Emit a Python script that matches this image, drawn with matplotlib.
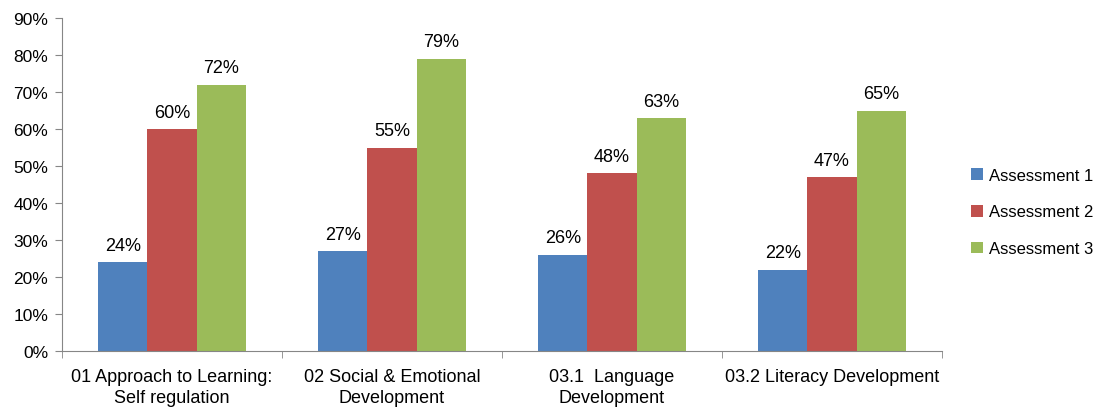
import matplotlib.pyplot as plt
import numpy as np

plt.rcParams['font.family'] = ['Liberation Sans', 'DejaVu Sans']

categories = ['01 Approach to Learning:\nSelf regulation',
              '02 Social & Emotional\nDevelopment',
              '03.1  Language\nDevelopment',
              '03.2 Literacy Development']
series_names = ['Assessment 1', 'Assessment 2', 'Assessment 3']
assessment1 = [24, 27, 26, 22]
assessment2 = [60, 55, 48, 47]
assessment3 = [72, 79, 63, 65]
colors = ['#4F81BD', '#C0504D', '#9BBB59']

fig = plt.figure(figsize=(10.99, 4.10), dpi=100)
ax = fig.add_axes([62 / 1099, 1 - 352 / 410, 880 / 1099, 333 / 410])

x = np.arange(len(categories))
width = 0.223
for i, (vals, name) in enumerate(zip([assessment1, assessment2, assessment3], series_names)):
    bars = ax.bar(x + (i - 1) * width, vals, width, color=colors[i], label=name)
    for b, v in zip(bars, vals):
        ax.annotate(f'{v}%', (b.get_x() + b.get_width() / 2, v),
                    xytext=(0, 6), textcoords='offset points',
                    ha='center', va='bottom', fontsize=13)

ax.set_xlim(-0.5, len(categories) - 0.5)
ax.set_ylim(0, 90)
ax.set_yticks(range(0, 91, 10))
ax.set_yticklabels([f'{t}%' for t in range(0, 91, 10)], fontsize=12.5)
ax.set_xticks(x)
ax.set_xticklabels(categories, fontsize=13, linespacing=1.35)
ax.set_xticks(np.arange(-0.5, len(categories)), minor=True)
ax.tick_params(axis='x', which='major', length=0, pad=12)
ax.tick_params(axis='x', which='minor', length=5, color='#868686')
ax.tick_params(axis='y', length=5, color='#868686', pad=5)

for s in ['top', 'right']:
    ax.spines[s].set_visible(False)
for s in ['left', 'bottom']:
    ax.spines[s].set_color('#868686')

fig.legend(loc='center left', bbox_to_anchor=(971 / 1099, 1 - 213 / 410),
           frameon=False, fontsize=12, labelspacing=1.3,
           borderpad=0, borderaxespad=0,
           handlelength=0.7, handleheight=0.7, handletextpad=0.4)

fig.savefig('out.png', dpi=100)
